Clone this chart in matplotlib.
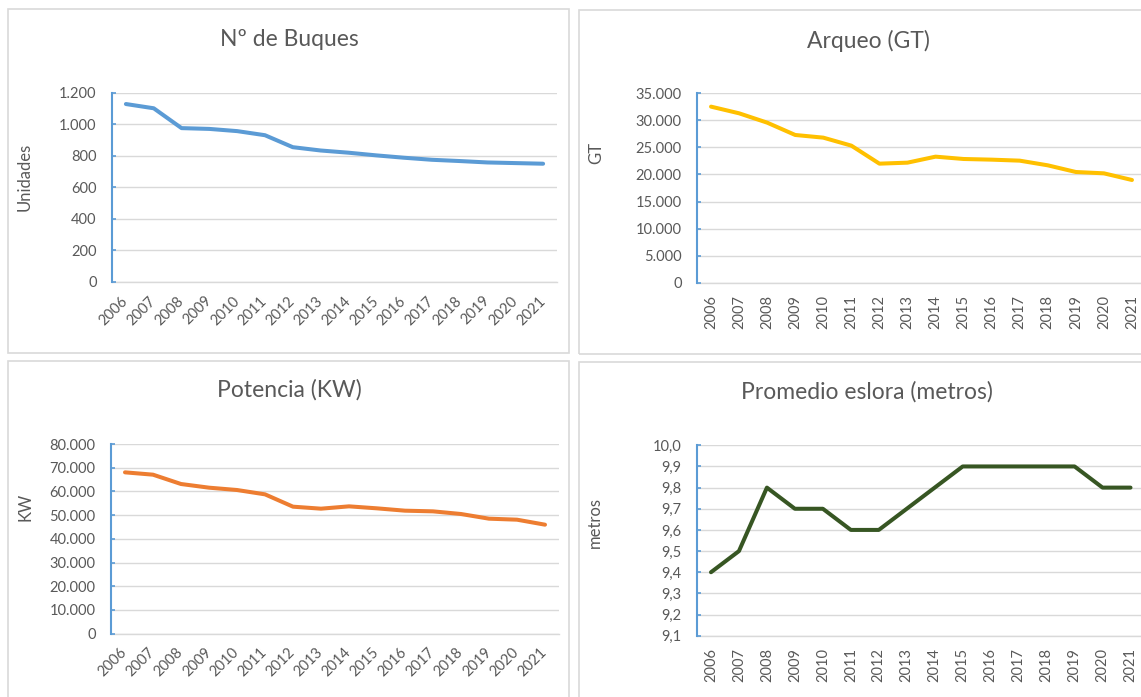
import matplotlib
matplotlib.use("Agg")
import matplotlib.pyplot as plt
from matplotlib.patches import Rectangle
from matplotlib.ticker import FuncFormatter, MultipleLocator

plt.rcParams['font.family'] = ['Lato', 'DejaVu Sans']

years = [str(y) for y in range(2006, 2022)]

buques = [1130, 1103, 977, 972, 958, 932, 856, 835, 821, 804, 789, 776, 768, 759, 755, 751]
arqueo = [32535, 31303, 29577, 27298, 26805, 25326, 21998, 22183, 23292, 22861,
          22738, 22553, 21690, 20458, 20211, 18979]
potencia = [68049, 67065, 63128, 61582, 60598, 58770, 53568, 52724, 53708, 52865,
            51880, 51599, 50475, 48506, 48084, 45975]
eslora = [9.4, 9.5, 9.8, 9.7, 9.7, 9.6, 9.6, 9.7, 9.8, 9.9, 9.9, 9.9, 9.9, 9.9, 9.8, 9.8]

W, H = 1141, 697
TXT = '#595959'
GRID = '#D9D9D9'
SPINE = '#5B9BD5'
TITLE_SIZE = 16.5
LABEL_SIZE = 12


def px_axes(fig, left, top, right, bottom):
    return fig.add_axes([left / W, 1 - bottom / H, (right - left) / W, (bottom - top) / H])


def frame(fig, left, top, right, bottom):
    fig.patches.append(Rectangle((left / W, 1 - bottom / H), (right - left) / W, (bottom - top) / H,
                                 transform=fig.transFigure, fill=False,
                                 edgecolor='#D9D9D9', linewidth=1.2))


def thousands(v, _):
    return f'{int(round(v)):,}'.replace(',', '.')


def decimal_comma(v, _):
    return f'{v:.1f}'.replace('.', ',')


def style_axes(ax, values, color, ymin, ymax, step, fmt, rot):
    x = range(len(years))
    ax.plot(x, values, color=color, linewidth=2.9, solid_capstyle='round', zorder=3)
    ax.set_xlim(-0.5, len(years) - 0.5)
    ax.set_ylim(ymin, ymax)
    ax.yaxis.set_major_locator(MultipleLocator(step))
    ax.yaxis.set_major_formatter(FuncFormatter(fmt))
    ax.set_xticks(list(x))
    ax.grid(axis='y', color=GRID, linewidth=1)
    ax.set_axisbelow(True)
    for s in ('top', 'right'):
        ax.spines[s].set_visible(False)
    ax.spines['left'].set_color(SPINE)
    ax.spines['left'].set_linewidth(1.5)
    ax.spines['bottom'].set_color(GRID)
    ax.spines['bottom'].set_linewidth(1)
    ax.spines['bottom'].set_zorder(0)
    ax.tick_params(axis='y', direction='in', length=3, color=SPINE, width=1.2,
                   labelsize=10.5, labelcolor=TXT, pad=11)
    ax.tick_params(axis='x', length=0, labelsize=10.5, labelcolor=TXT, pad=9)
    if rot == 45:
        ax.set_xticklabels(years, rotation=45, ha='right', va='center', rotation_mode='anchor')
        ax.tick_params(axis='x', pad=12)
    else:
        ax.set_xticklabels(years, rotation=90, ha='center', va='top')
    ax.set_facecolor('none')


def main():
    fig = plt.figure(figsize=(W / 100, H / 100), dpi=100)

    # outer chart boxes
    frame(fig, 8, 9, 569, 353)
    frame(fig, 579, 10, 1160, 354)
    frame(fig, 8, 361, 569, 720)
    frame(fig, 579, 362, 1160, 720)

    ax1 = px_axes(fig, 112, 93, 557, 282)
    style_axes(ax1, buques, '#5B9BD5', 0, 1200, 200, thousands, 45)
    fig.text(289 / W, 1 - 40 / H, 'Nº de Buques', ha='center', va='center',
             fontsize=TITLE_SIZE, color=TXT)
    fig.text(25 / W, 1 - 177 / H, 'Unidades', ha='center', va='center', rotation=90,
             fontsize=LABEL_SIZE, color=TXT)

    ax2 = px_axes(fig, 697, 93.3, 1146, 282.7)
    style_axes(ax2, arqueo, '#FFC000', 0, 35000, 5000, thousands, 90)
    fig.text(868 / W, 1 - 41 / H, 'Arqueo (GT)', ha='center', va='center',
             fontsize=TITLE_SIZE, color=TXT)
    fig.text(596 / W, 1 - 153 / H, 'GT', ha='center', va='center', rotation=90,
             fontsize=LABEL_SIZE, color=TXT)

    ax3 = px_axes(fig, 111, 444, 559, 633.7)
    style_axes(ax3, potencia, '#ED7D31', 0, 80000, 10000, thousands, 45)
    fig.text(289 / W, 1 - 390 / H, 'Potencia (KW)', ha='center', va='center',
             fontsize=TITLE_SIZE, color=TXT)
    fig.text(25 / W, 1 - 507 / H, 'KW', ha='center', va='center', rotation=90,
             fontsize=LABEL_SIZE, color=TXT)

    ax4 = px_axes(fig, 697, 445.3, 1144.5, 635.7)
    style_axes(ax4, eslora, '#375623', 9.1, 10.0, 0.1, decimal_comma, 90)
    fig.text(867 / W, 1 - 392 / H, 'Promedio eslora (metros)', ha='center', va='center',
             fontsize=TITLE_SIZE, color=TXT)
    fig.text(595 / W, 1 - 522 / H, 'metros', ha='center', va='center', rotation=90,
             fontsize=LABEL_SIZE, color=TXT)

    fig.savefig('out.png', dpi=100, facecolor='white')


if __name__ == "__main__":
    main()
